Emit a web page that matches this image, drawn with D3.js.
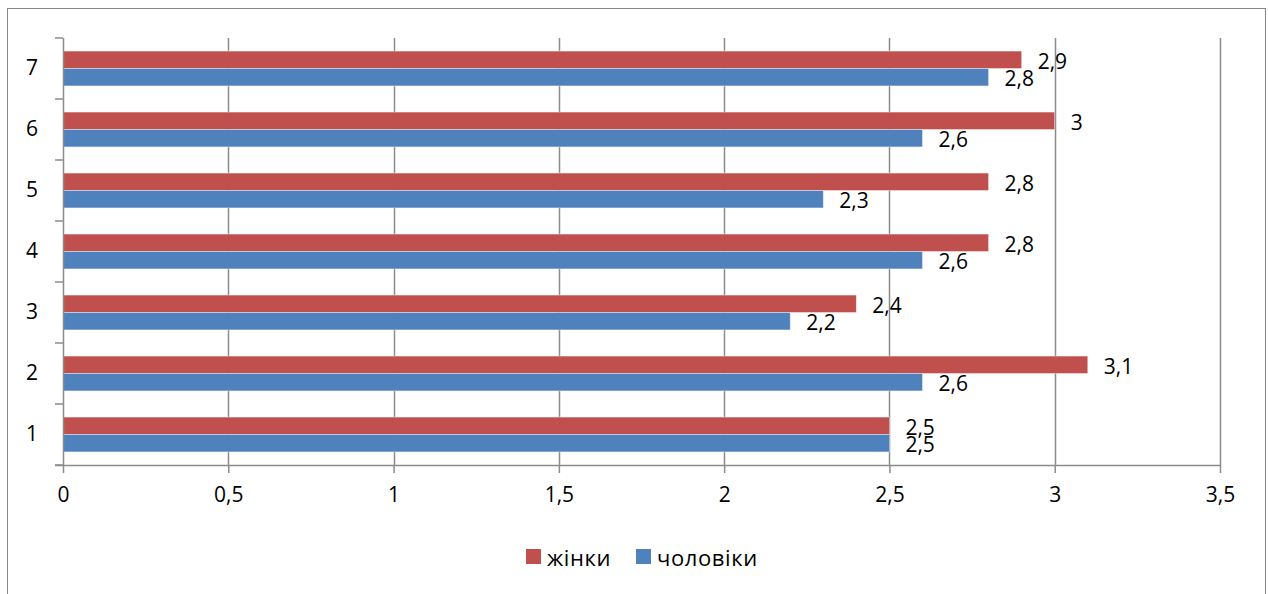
<!DOCTYPE html>
<html>
<head>
<meta charset="utf-8">
<script src="https://cdn.jsdelivr.net/npm/d3@7"></script>
<style>
  html, body { margin: 0; padding: 0; background: #fff; }
  svg { display: block; font-family: "Open Sans", "Noto Sans", sans-serif; }
</style>
</head>
<body>
<svg id="chart" width="1268" height="594"></svg>
<script>
// Survey groups 1..7 with mean scores for women and men
const categories = ["1", "2", "3", "4", "5", "6", "7"];
const women = [2.5, 3.1, 2.4, 2.8, 2.8, 3, 2.9];
const men = [2.5, 2.6, 2.2, 2.6, 2.3, 2.6, 2.8];
const xTicks = [0, 0.5, 1, 1.5, 2, 2.5, 3, 3.5];
const seriesNames = ["жінки", "чоловіки"];
const seriesColors = ["#C0504D", "#4F81BD"];

const fmt = v => String(v).replace(".", ",");

const svg = d3.select("#chart");
const plot = { left: 63, right: 1220, top: 38, bottom: 465 };

// Outer chart frame (bottom edge falls outside the canvas)
svg.append("rect")
  .attr("x", 7.5).attr("y", 8.5)
  .attr("width", 1258).attr("height", 600)
  .attr("fill", "#fff").attr("stroke", "#868686").attr("stroke-width", 1);

const x = d3.scaleLinear().domain([0, 3.5]).range([plot.left, plot.right]);
// Category 1 sits at the bottom
const y = d3.scaleBand().domain(categories.slice().reverse())
  .range([plot.top, plot.bottom]).paddingInner(0).paddingOuter(0);
const groupH = y.bandwidth() / 1.75;
const inner = d3.scaleBand().domain([0, 1]).range([0, groupH]);

// Vertical gridlines
svg.append("g").selectAll("line").data(xTicks.slice(1)).join("line")
  .attr("x1", d => Math.round(x(d)) + 0.5).attr("x2", d => Math.round(x(d)) + 0.5)
  .attr("y1", plot.top).attr("y2", plot.bottom)
  .attr("stroke", "#8c8c8c").attr("stroke-width", 1.5);

// Bars with value labels
const rows = categories.map((c, i) => ({ c, vals: [women[i], men[i]] }));
const g = svg.append("g");
rows.forEach(r => {
  const y0 = y(r.c) + (y.bandwidth() - groupH) / 2;
  r.vals.forEach((v, s) => {
    g.append("rect")
      .attr("x", x(0)).attr("y", y0 + inner(s))
      .attr("width", x(v) - x(0)).attr("height", inner.bandwidth())
      .attr("fill", seriesColors[s])
      .attr("stroke", "#ffffff").attr("stroke-opacity", 0.5).attr("stroke-width", 0.8);
    g.append("text")
      .attr("x", x(v) + 16).attr("y", y0 + inner(s) + inner.bandwidth() / 2 + 1)
      .attr("dominant-baseline", "central")
      .attr("font-size", 21).attr("fill", "#000")
      .text(fmt(v));
  });
});

// X axis
const xAxis = d3.axisBottom(x).tickValues(xTicks).tickFormat(fmt).tickSize(8).tickPadding(14);
const gx = svg.append("g").attr("transform", `translate(0,${plot.bottom})`).call(xAxis);
gx.select(".domain").remove();
gx.append("line").attr("x1", plot.left - 8).attr("x2", plot.right)
  .attr("y1", 0.5).attr("y2", 0.5).attr("stroke", "#8c8c8c").attr("stroke-width", 1.5);
gx.selectAll(".tick line").attr("stroke", "#8c8c8c").attr("stroke-width", 1.5);
gx.selectAll(".tick text").attr("font-size", 21).attr("fill", "#000")
  .attr("font-family", "\"Open Sans\", sans-serif");

// Y axis
const yAxis = d3.axisLeft(y).tickSize(0).tickPadding(25);
const gy = svg.append("g").attr("transform", `translate(${plot.left},0)`).call(yAxis);
gy.select(".domain").remove();
gy.append("line").attr("x1", 0.5).attr("x2", 0.5).attr("y1", plot.top).attr("y2", plot.bottom)
  .attr("stroke", "#8c8c8c").attr("stroke-width", 1.5);
gy.selectAll(".cat-tick").data(d3.range(categories.length + 1)).join("line")
  .attr("x1", -8).attr("x2", 0)
  .attr("y1", i => plot.top + i * y.bandwidth()).attr("y2", i => plot.top + i * y.bandwidth())
  .attr("stroke", "#8c8c8c").attr("stroke-width", 1.5);
gy.selectAll(".tick text").attr("font-size", 21).attr("fill", "#000")
  .attr("font-family", "\"Open Sans\", sans-serif");

// Legend
const legend = svg.append("g");
const legendX = [526, 636];
seriesNames.forEach((name, i) => {
  legend.append("rect").attr("x", legendX[i]).attr("y", 549)
    .attr("width", 15).attr("height", 15).attr("fill", seriesColors[i]);
  legend.append("text").attr("x", legendX[i] + 21).attr("y", 557)
    .attr("dominant-baseline", "central").attr("font-size", 22)
    .attr("letter-spacing", 0.6).attr("fill", "#000")
    .text(name);
});
</script>
</body>
</html>
